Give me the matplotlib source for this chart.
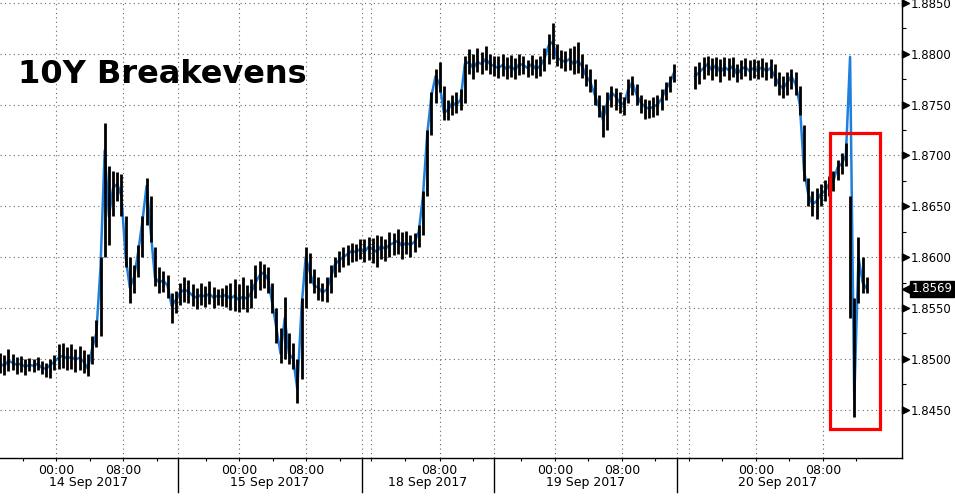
import numpy as np
import matplotlib.pyplot as plt
from matplotlib.patches import Rectangle
from matplotlib.path import Path

# 30-minute bars on Bloomberg's compressed session axis (x = bar number)
# 14 Sep .. 19 Sep, bars 0..161
close_a = [1.8495, 1.8493, 1.8498, 1.8496, 1.8494, 1.8495, 1.8492, 1.8494, 1.8493, 1.8495,
           1.8491, 1.8490, 1.8494, 1.8497, 1.8501, 1.8503, 1.8500, 1.8502, 1.8499, 1.8501,
           1.8497, 1.8490, 1.8510, 1.8525, 1.8590, 1.8705, 1.8640, 1.8668, 1.8672, 1.8660,
           1.8600, 1.8570, 1.8580, 1.8605, 1.8635, 1.8670, 1.8625, 1.8580, 1.8575, 1.8577,
           1.8572, 1.8552, 1.8558, 1.8565, 1.8568, 1.8566, 1.8562, 1.8560, 1.8563, 1.8561,
           1.8564, 1.8560, 1.8562, 1.8561, 1.8563, 1.8559, 1.8562, 1.8558, 1.8561, 1.8559,
           1.8565, 1.8575, 1.8582, 1.8585, 1.8578, 1.8555, 1.8530, 1.8505, 1.8540, 1.8505,
           1.8500, 1.8470, 1.8550, 1.8600, 1.8585, 1.8572, 1.8570, 1.8565, 1.8568, 1.8580,
           1.8593, 1.8597, 1.8600, 1.8603, 1.8606, 1.8605, 1.8608, 1.8605, 1.8610, 1.8608,
           1.8605, 1.8611, 1.8608, 1.8612, 1.8614, 1.8616, 1.8611, 1.8614, 1.8612, 1.8615,
           1.8625, 1.8660, 1.8720, 1.8758, 1.8778, 1.8770, 1.8742, 1.8745, 1.8752, 1.8750,
           1.8755, 1.8790, 1.8792, 1.8786, 1.8792, 1.8790, 1.8795, 1.8790, 1.8788, 1.8786,
           1.8789, 1.8785, 1.8788, 1.8784, 1.8790, 1.8789, 1.8786, 1.8790, 1.8785, 1.8788,
           1.8795, 1.8808, 1.8812, 1.8796, 1.8794, 1.8792, 1.8795, 1.8790, 1.8793, 1.8788,
           1.8778, 1.8772, 1.8760, 1.8748, 1.8735, 1.8752, 1.8762, 1.8758, 1.8752, 1.8750,
           1.8765, 1.8772, 1.8760, 1.8752, 1.8748, 1.8746, 1.8748, 1.8750, 1.8756, 1.8765,
           1.8772, 1.8782]
high_a = [1.8506, 1.8504, 1.8510, 1.8505, 1.8502, 1.8503, 1.8500, 1.8501, 1.8500, 1.8502,
          1.8498, 1.8496, 1.8500, 1.8504, 1.8514, 1.8515, 1.8512, 1.8514, 1.8510, 1.8513,
          1.8509, 1.8505, 1.8522, 1.8538, 1.8600, 1.8732, 1.8690, 1.8685, 1.8684, 1.8682,
          1.8640, 1.8600, 1.8592, 1.8612, 1.8640, 1.8678, 1.8660, 1.8610, 1.8590, 1.8586,
          1.8582, 1.8565, 1.8567, 1.8575, 1.8580, 1.8577, 1.8574, 1.8570, 1.8575, 1.8572,
          1.8576, 1.8571, 1.8569, 1.8570, 1.8573, 1.8575, 1.8578, 1.8574, 1.8580, 1.8573,
          1.8578, 1.8592, 1.8596, 1.8593, 1.8590, 1.8575, 1.8550, 1.8530, 1.8561, 1.8525,
          1.8515, 1.8500, 1.8560, 1.8610, 1.8604, 1.8588, 1.8580, 1.8575, 1.8580, 1.8592,
          1.8600, 1.8606, 1.8610, 1.8612, 1.8614, 1.8613, 1.8618, 1.8618, 1.8620, 1.8619,
          1.8622, 1.8621, 1.8618, 1.8625, 1.8624, 1.8628, 1.8625, 1.8626, 1.8622, 1.8624,
          1.8632, 1.8665, 1.8725, 1.8762, 1.8785, 1.8792, 1.8768, 1.8755, 1.8760, 1.8762,
          1.8765, 1.8798, 1.8805, 1.8800, 1.8806, 1.8802, 1.8808, 1.8800, 1.8798, 1.8798,
          1.8800, 1.8797, 1.8799, 1.8796, 1.8800, 1.8798, 1.8794, 1.8799, 1.8795, 1.8798,
          1.8806, 1.8820, 1.8830, 1.8810, 1.8804, 1.8803, 1.8806, 1.8808, 1.8812, 1.8800,
          1.8790, 1.8785, 1.8775, 1.8760, 1.8750, 1.8762, 1.8768, 1.8766, 1.8762, 1.8758,
          1.8775, 1.8778, 1.8770, 1.8760, 1.8756, 1.8755, 1.8758, 1.8760, 1.8765, 1.8772,
          1.8778, 1.8790]
low_a = [1.8486, 1.8484, 1.8488, 1.8489, 1.8485, 1.8487, 1.8484, 1.8488, 1.8487, 1.8489,
         1.8485, 1.8482, 1.8481, 1.8489, 1.8490, 1.8491, 1.8489, 1.8490, 1.8487, 1.8489,
         1.8486, 1.8483, 1.8495, 1.8512, 1.8522, 1.8600, 1.8612, 1.8640, 1.8655, 1.8640,
         1.8590, 1.8555, 1.8565, 1.8580, 1.8600, 1.8632, 1.8615, 1.8572, 1.8565, 1.8566,
         1.8560, 1.8535, 1.8545, 1.8553, 1.8556, 1.8555, 1.8552, 1.8549, 1.8553, 1.8551,
         1.8554, 1.8550, 1.8553, 1.8552, 1.8551, 1.8548, 1.8547, 1.8546, 1.8549, 1.8546,
         1.8550, 1.8560, 1.8568, 1.8570, 1.8565, 1.8545, 1.8515, 1.8496, 1.8500, 1.8495,
         1.8490, 1.8456, 1.8480, 1.8550, 1.8575, 1.8565, 1.8558, 1.8557, 1.8556, 1.8565,
         1.8580, 1.8585, 1.8590, 1.8592, 1.8595, 1.8596, 1.8598, 1.8595, 1.8597, 1.8594,
         1.8590, 1.8598, 1.8596, 1.8600, 1.8602, 1.8603, 1.8598, 1.8603, 1.8600, 1.8605,
         1.8610, 1.8622, 1.8660, 1.8720, 1.8752, 1.8762, 1.8735, 1.8735, 1.8740, 1.8742,
         1.8745, 1.8752, 1.8780, 1.8775, 1.8782, 1.8780, 1.8784, 1.8780, 1.8778, 1.8776,
         1.8778, 1.8775, 1.8777, 1.8775, 1.8779, 1.8780, 1.8777, 1.8779, 1.8776, 1.8778,
         1.8783, 1.8790, 1.8795, 1.8788, 1.8786, 1.8783, 1.8784, 1.8780, 1.8781, 1.8776,
         1.8768, 1.8762, 1.8750, 1.8738, 1.8718, 1.8725, 1.8748, 1.8745, 1.8742, 1.8740,
         1.8752, 1.8760, 1.8750, 1.8742, 1.8736, 1.8737, 1.8738, 1.8740, 1.8745, 1.8755,
         1.8762, 1.8772]

# 20 Sep, bars 166..207 (the 1.8797 print is the bad tick on the blue line)
start_b = 166
close_b = [1.8778, 1.8782, 1.8786, 1.8790, 1.8784, 1.8789, 1.8782, 1.8787, 1.8784, 1.8788,
           1.8780, 1.8785, 1.8787, 1.8783, 1.8786, 1.8784, 1.8787, 1.8783, 1.8786, 1.8778,
           1.8770, 1.8766, 1.8772, 1.8778, 1.8770, 1.8750, 1.8685, 1.8662, 1.8652, 1.8655,
           1.8662, 1.8665, 1.8672, 1.8675, 1.8688, 1.8692, 1.8700, 1.8797, 1.8460, 1.8600,
           1.8575, 1.8569]
high_b = [1.8788, 1.8792, 1.8797, 1.8798, 1.8796, 1.8797, 1.8795, 1.8797, 1.8796, 1.8797,
          1.8790, 1.8794, 1.8796, 1.8794, 1.8795, 1.8794, 1.8796, 1.8792, 1.8795, 1.8790,
          1.8782, 1.8778, 1.8782, 1.8785, 1.8782, 1.8768, 1.8730, 1.8678, 1.8665, 1.8668,
          1.8672, 1.8676, 1.8680, 1.8685, 1.8696, 1.8702, 1.8712, 1.8660, 1.8560, 1.8620,
          1.8600, 1.8580]
low_b = [1.8765, 1.8770, 1.8775, 1.8779, 1.8774, 1.8778, 1.8772, 1.8778, 1.8774, 1.8777,
         1.8772, 1.8775, 1.8778, 1.8774, 1.8776, 1.8775, 1.8777, 1.8774, 1.8776, 1.8768,
         1.8760, 1.8757, 1.8760, 1.8765, 1.8760, 1.8740, 1.8675, 1.8650, 1.8640, 1.8637,
         1.8650, 1.8655, 1.8660, 1.8665, 1.8676, 1.8682, 1.8690, 1.8540, 1.8443, 1.8555,
         1.8565, 1.8565]
last_value = 1.8569

# axis layout (bar numbers)
time_ticks = [13.4, 29.4, 57.1, 73.1, 105.0, 132.5, 148.5, 180.5, 196.5]
time_labels = ['00:00', '08:00', '00:00', '08:00', '08:00', '00:00', '08:00', '00:00', '08:00']
four_hour_ticks = [5.4, 21.4, 37.4, 49.1, 65.1, 81.1, 88.6, 96.6, 113.0, 124.5, 140.5,
                   156.5, 164.5, 172.5, 188.5, 204.5]
day_edges = [0, 42.5, 86.4, 118.0, 161.7, 209.5]
day_labels = ['14 Sep 2017', '15 Sep 2017', '18 Sep 2017', '19 Sep 2017', '20 Sep 2017']
extra_grid = [88.6, 164.5]
yticks = [1.8450, 1.8500, 1.8550, 1.8600, 1.8650, 1.8700, 1.8750, 1.8800, 1.8850]
box_x = (198.2, 210.15)
box_y = (1.8431, 1.8722)

fig = plt.figure(figsize=(9.55, 4.98), dpi=100)
ax = fig.add_axes([0, 1 - 458 / 498, 902 / 955, 458 / 498])
ax.set_xlim(0, 215.4)
ax.set_ylim(1.84023, 1.88530)

blue = '#1f7fdc'
dot = (0, (1, 3))
for x0, c, h, l in [(0, close_a, high_a, low_a), (start_b, close_b, high_b, low_b)]:
    x = x0 + np.arange(len(c))
    ax.plot(x, c, color=blue, lw=1.8, zorder=2)
    ax.vlines(x, l, h, color='black', lw=2.0, zorder=3)

# grid
for gx in time_ticks + day_edges[1:-1] + extra_grid:
    ax.axvline(gx, color='#666666', lw=0.8, ls=dot, zorder=1)
for gy in yticks:
    ax.axhline(gy, color='#666666', lw=0.8, ls=dot, zorder=1)

for s in ['left', 'top']:
    ax.spines[s].set_visible(False)
ax.spines['bottom'].set_linewidth(1.0)
ax.spines['right'].set_linewidth(1.0)

# x axis
ax.set_xticks(time_ticks, time_labels)
ax.set_xticks(four_hour_ticks, minor=True)
ax.tick_params(axis='x', which='both', direction='out', length=2.5, width=0.8,
               labelsize=9, pad=1.5, colors='black')
xt = ax.get_xaxis_transform()
for e in day_edges[1:-1]:
    ax.plot([e, e], [0, -0.074], color='black', lw=1.0, transform=xt, clip_on=False)
for i, lab in enumerate(day_labels):
    ax.text((day_edges[i] + day_edges[i + 1]) / 2, -0.054, lab, transform=xt,
            ha='center', va='center', fontsize=9)

# y axis on the right, arrow-head major ticks
ax.yaxis.tick_right()
ax.set_yticks(yticks, ['%.4f' % v for v in yticks])
ax.set_yticks(np.array(yticks[:-1]) + 0.0025, minor=True)
ax.tick_params(axis='y', which='major', length=0, pad=6, labelsize=8.5)
ax.tick_params(axis='y', which='minor', length=3, width=0.8, direction='out')
tri = Path([(0, -0.5), (0, 0.5), (1, 0), (0, -0.5)],
           [Path.MOVETO, Path.LINETO, Path.LINETO, Path.CLOSEPOLY])
yt = ax.get_yaxis_transform()
ax.plot([1] * len(yticks), yticks, ls='none', marker=tri, ms=10, color='black',
        transform=yt, clip_on=False)

# last value tag
ax.plot([1.0045], [last_value], ls='none', marker='<', ms=6, color='black',
        transform=yt, clip_on=False)
ax.text(1.0105, last_value, '%.4f' % last_value, transform=yt, color='white',
        fontsize=8.5, ha='left', va='center',
        bbox=dict(boxstyle='square,pad=0.12', fc='black', ec='black'))

ax.add_patch(Rectangle((box_x[0], box_y[0]), box_x[1] - box_x[0], box_y[1] - box_y[0],
                       fill=False, ec='#ff0000', lw=2.3, zorder=4))

ax.text(0.020, 1 - 83 / 458, '10Y Breakevens', transform=ax.transAxes,
        fontsize=23, fontweight='bold', va='baseline', ha='left')

fig.savefig('out.png', dpi=100)
